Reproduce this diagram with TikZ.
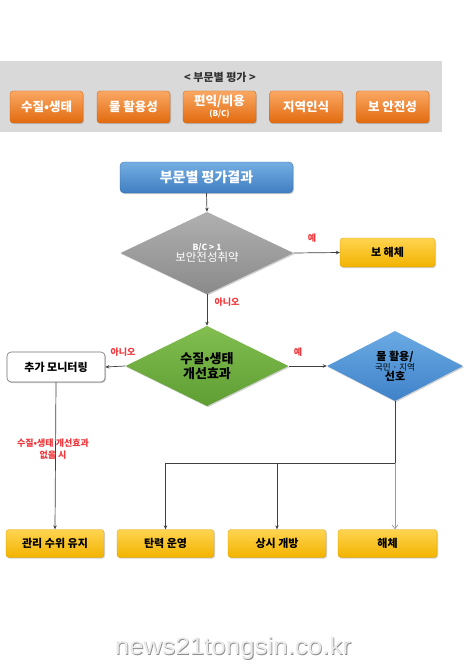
\documentclass[tikz,border=0pt]{standalone}
\usepackage{fontspec}
\setmainfont{Noto Sans CJK KR}
\newfontfamily\wmfont{Liberation Sans}
\usetikzlibrary{shapes.geometric,shadows,arrows.meta}
\definecolor{bandgray}{HTML}{D9D9D9}
\definecolor{orT}{HTML}{FAA864}
\definecolor{orB}{HTML}{E26A0E}
\definecolor{blT}{HTML}{74AEE2}
\definecolor{blB}{HTML}{3F7EC2}
\definecolor{yeT}{HTML}{FFD450}
\definecolor{yeB}{HTML}{F2B300}
\definecolor{grT}{HTML}{B0B0B0}
\definecolor{grB}{HTML}{8A8A8A}
\definecolor{gnT}{HTML}{82BE50}
\definecolor{gnB}{HTML}{5E9E33}
\definecolor{dbT}{HTML}{6AAAE4}
\definecolor{dbB}{HTML}{3F82C8}
\definecolor{redlab}{HTML}{F0383C}
\definecolor{lineg}{HTML}{404040}
\tikzset{
  shad/.style={drop shadow={shadow xshift=1pt,shadow yshift=-1.2pt,opacity=0.35}},
  orbox/.style={shad,rounded corners=3pt,top color=orT,bottom color=orB,draw=orB!90!black,line width=0.3pt,
    text=white,font=\bfseries\fontsize{12.5}{13}\selectfont,minimum width=73,minimum height=32,inner sep=0pt,align=center},
  yebox/.style={shad,rounded corners=3pt,top color=yeT,bottom color=yeB,draw=yeB!90!black,line width=0.3pt,
    text=black,font=\bfseries\fontsize{11}{12}\selectfont,minimum height=28,inner sep=0pt},
  dia/.style={diamond,inner sep=0pt,align=center,shad},
  conn/.style={draw=lineg,line width=0.7pt,-{Stealth[length=4pt,width=3.5pt]}},
  redtxt/.style={text=redlab,font=\bfseries\fontsize{9}{10}\selectfont,align=center,inner sep=0pt},
}
\begin{document}
\begin{tikzpicture}[x=1pt,y=-1pt]
\useasboundingbox (0,0) rectangle (465,666);
\fill[white] (0,0) rectangle (465,666);
% band
\fill[bandgray] (0,61) rectangle (442,132);
\node[font=\bfseries\fontsize{11}{12}\selectfont,text=black!80] (title) at (220,77) {< 부문별 평가 >};
\node[orbox] (o1) at (46.5,107) {수질•생태};
\node[orbox] (o2) at (133.5,107) {물 활용성};
\node[orbox] (o3) at (219.5,107) {편익/비용\\[-2pt]{\fontsize{8}{9}\selectfont (B/C)}};
\node[orbox] (o4) at (306,107) {지역인식};
\node[orbox] (o5) at (392.5,107) {보 안전성};
% flow
\node[shad,rounded corners=4pt,top color=blT,bottom color=blB,draw=blB!85!black,line width=0.3pt,text=white,
  font=\bfseries\fontsize{14}{15}\selectfont,minimum width=173,minimum height=31,inner sep=0pt] (res) at (206.5,177.5) {부문별 평가결과};
\node[dia,top color=grT,bottom color=grB,minimum width=173,minimum height=63,text=white] (d1) at (207,253)
  {{\bfseries\fontsize{8.5}{9}\selectfont B/C > 1}\\[-1pt]{\fontsize{11.5}{12}\selectfont 보안전성취약}};
\node[yebox,minimum width=95,minimum height=29] (bh) at (387.5,252.5) {보 해체};
\node[dia,top color=gnT,bottom color=gnB,minimum width=163,minimum height=72,text=black,
  font=\bfseries\fontsize{13}{15}\selectfont] (d2) at (207,366) {수질•생태\\개선효과};
\node[shad,rounded corners=4pt,fill=white,draw=black!55,line width=0.6pt,minimum width=98,minimum height=30,inner sep=0pt,
  font=\bfseries\fontsize{11}{12}\selectfont] (mon) at (56,367) {추가 모니터링};
\node[dia,top color=dbT,bottom color=dbB,minimum width=136,minimum height=58,text=black] (d3) at (395,366)
  {{\bfseries\fontsize{11}{12}\selectfont 물 활용/}\\[-2pt]{\fontsize{8.5}{9}\selectfont 국민 · 지역}\\[-2pt]{\bfseries\fontsize{11}{12}\selectfont 선호}};
\node[yebox,minimum width=98] (b1) at (55,543.5) {관리 수위 유지};
\node[yebox,minimum width=97] (b2) at (165.5,543.5) {탄력 운영};
\node[yebox,minimum width=98] (b3) at (277,543.5) {상시 개방};
\node[yebox,minimum width=99] (b4) at (387.5,543.5) {해체};
% connectors
\draw[conn] (res.south) -- (d1.north);
\draw[conn] (d1.east) -- (bh.west);
\draw[conn] (d1.south) -- (d2.north);
\draw[conn] (d2.west) -- (mon.east);
\draw[conn] (d2.east) -- (d3.west);
\draw[conn] (mon.south) -- (b1.north);
\coordinate (j) at (395,463);
\draw[draw=lineg,line width=0.7pt] (d3.south) -- (j);
\draw[conn] (j) -| (b2.north);
\draw[conn] (b3.north |- j) -- (b3.north);
\draw[draw=black!40,line width=0.7pt,-{Straight Barb[length=4pt,width=6pt]}] (j) -- (j |- b4.north);
% labels
\node[redtxt] (l1) at (312,238) {예};
\node[redtxt] (l2) at (227,302) {아니오};
\node[redtxt] (l3) at (123,352) {아니오};
\node[redtxt] (l4) at (298,352) {예};
\node[redtxt,font=\bfseries\fontsize{9}{12}\selectfont] (l5) at (53,449) {수질•생태 개선효과\\없을 시};
% watermark
\node[text=black!45,font=\wmfont\fontsize{24}{26}\selectfont,xscale=1.08] (wm2) at (233.8,649) {news21tongsin.co.kr};
\node[text=black!8,font=\wmfont\fontsize{24}{26}\selectfont,xscale=1.08] (wm) at (233,648) {news21tongsin.co.kr};
\end{tikzpicture}
\end{document}
